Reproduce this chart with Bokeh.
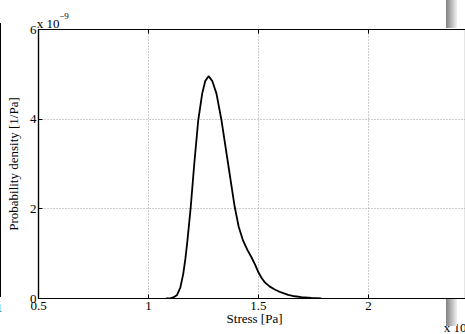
from bokeh.plotting import figure
from bokeh.models import Range1d, FixedTicker, LinearAxis, Div
from bokeh.layouts import row
from bokeh.embed import file_html
from bokeh.resources import INLINE

# Stress in axis units (scaled, exponent label cut off at the right edge)
stress = [1.08, 1.10, 1.115, 1.13, 1.145, 1.158, 1.168, 1.177, 1.192, 1.208,
          1.226, 1.244, 1.258, 1.273, 1.29, 1.309, 1.332, 1.362, 1.392, 1.41,
          1.43, 1.45, 1.468, 1.485, 1.499, 1.515, 1.529, 1.55, 1.574, 1.60,
          1.635, 1.665, 1.695, 1.74, 1.786]
# Probability density in units of 1e-9 1/Pa
density = [0.0, 0.005, 0.03, 0.08, 0.25, 0.55, 0.9, 1.29, 2.04, 3.0,
           3.97, 4.57, 4.85, 4.96, 4.85, 4.57, 3.97, 3.0, 2.04, 1.6,
           1.29, 1.08, 0.92, 0.75, 0.59, 0.45, 0.36, 0.27, 0.2, 0.14,
           0.08, 0.05, 0.03, 0.015, 0.005]
x_ticks = [0.5, 1, 1.5, 2]
y_ticks = [0, 2, 4, 6]
x_label = "Stress [Pa]"
y_label = "Probability density [1/Pa]"
y_exponent = ("x 10", "−9")
x_exponent = "x 10"
neighbour_tick = "1"

FONT = "Liberation Serif"
Y_MAX = 6


def text_row(pos, labels, size, standoff):
    """An axis used only to place text rows outside the plot frame."""
    return LinearAxis(ticker=FixedTicker(ticks=pos),
                      major_label_overrides=dict(zip(pos, labels)),
                      axis_line_color=None, major_tick_line_color=None,
                      minor_tick_line_color=None, major_tick_in=0, major_tick_out=0,
                      major_label_standoff=standoff,
                      major_label_text_font=FONT, major_label_text_font_size=size,
                      major_label_text_color="black")


p = figure(width=463, height=334, output_backend="svg", toolbar_location=None,
           x_range=Range1d(0.5, 2.4455), y_range=Range1d(0, Y_MAX),
           frame_width=428, frame_height=269,
           min_border_left=35, min_border_top=29, min_border_bottom=36,
           min_border_right=0, margin=0)
p.title.visible = False
p.background_fill_color = "white"
p.border_fill_color = "white"
p.outline_line_color = "black"
p.outline_line_width = 1.2

p.line(stress, density, line_color="black", line_width=1.8)

# inward ticks along the top edge (MATLAB box style)
top_ticks = [t for t in x_ticks if t > 0.5]
p.segment(x0=top_ticks, x1=top_ticks, y0=[Y_MAX] * len(top_ticks),
          y1=[Y_MAX - 0.09] * len(top_ticks), line_color="black", line_width=1)

for ax in (p.xaxis[0], p.yaxis[0]):
    ax.major_label_text_font = FONT
    ax.major_label_text_font_size = "13px"
    ax.major_label_text_color = "black"
    ax.axis_label_text_font = FONT
    ax.axis_label_text_font_size = "13px"
    ax.axis_label_text_font_style = "normal"
    ax.axis_label_text_color = "black"
    ax.axis_line_color = "black"
    ax.axis_line_width = 1.2
    ax.major_tick_in = 4
    ax.major_tick_out = 0
    ax.major_tick_line_color = "black"
    ax.minor_tick_line_color = None

p.xaxis[0].ticker = FixedTicker(ticks=x_ticks)
p.yaxis[0].ticker = FixedTicker(ticks=y_ticks)
p.yaxis[0].axis_label = y_label
p.xaxis[0].major_label_standoff = 3
p.yaxis[0].major_label_standoff = 2
p.yaxis[0].axis_label_standoff = 6

# second row under the x axis: axis title (centred) and cut-off exponent at the right
xa2 = text_row([1.482, 2.405], [x_label, "\n" + x_exponent], "13px", -2)
xa2.major_label_text_line_height = 0.6
p.add_layout(xa2, "below")

# y exponent "x 10^-9" above the top-left corner
p.add_layout(text_row([0.544], [y_exponent[0]], "13px", -1), "above")
p.add_layout(text_row([0.616], [y_exponent[1]], "9px", -6), "above")

p.xgrid.grid_line_color = "#999999"
p.xgrid.grid_line_dash = "1 2"
p.ygrid.grid_line_color = "#999999"
p.ygrid.grid_line_dash = "1 2"

# edge of the neighbouring panel at the far left, shaded strip at the right
bar = ('position:absolute;left:446px;width:11px;z-index:10;'
       'background:linear-gradient(to right,#808080,#f2f2f2);')
edge = Div(width=2, height=334, margin=0, text=(
    '<div style="position:absolute;left:0;top:23px;width:0;height:274px;'
    'border-left:1.5px solid black"></div>'
    '<div style="position:absolute;left:-4px;top:300px;font:13px \'Liberation Serif\';'
    'color:black">' + neighbour_tick + '</div>'
    '<div style="' + bar + 'top:0;height:28px"></div>'
    '<div style="' + bar + 'top:299px;height:27px"></div>'))

layout = row(edge, p, spacing=0, margin=0)
open("out.html", "w").write(file_html(layout, INLINE))
